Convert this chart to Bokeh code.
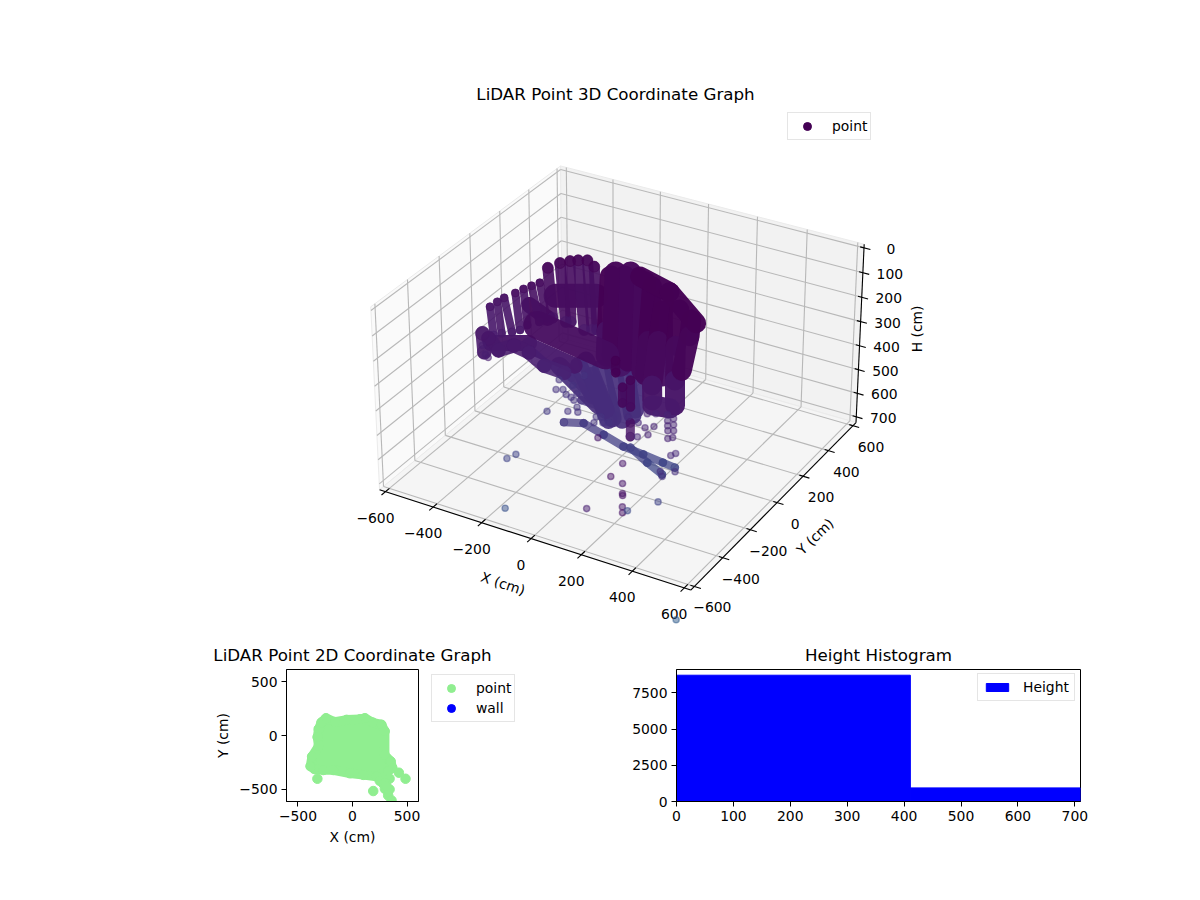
import numpy as np
from bokeh.core.properties import value
from bokeh.embed import file_html
from bokeh.layouts import column, row
from bokeh.models import ColumnDataSource, FixedTicker, Legend, LegendItem, LinearColorMapper, Range1d
from bokeh.palettes import Viridis256
from bokeh.plotting import figure
from bokeh.resources import INLINE
from bokeh.transform import transform

FONT = "DejaVu Sans"
TICK_SIZE = "13.9px"
TITLE_SIZE = "16.7px"

# limits of the 3D box (H axis is inverted)
x_lim = (-625, 625)
y_lim = (-625, 625)
h_lim = (724.8, -14.8)
x_ticks = [-600, -400, -200, 0, 200, 400, 600]
y_ticks = [-600, -400, -200, 0, 200, 400, 600]
h_ticks = [0, 100, 200, 300, 400, 500, 600, 700]

# LiDAR scan strips: x, y, h in cm
finger_x = [[-399, -348], [-384, -327], [-369, -297], [-342, -276], [-323, -261], [-303, -229], [-282, -213]]
finger_y = [[-230, -290], [-206, -271], [-184, -251], [-153, -232], [-129, -208], [-108, -180], [-87, -158]]
finger_h = [[112, 182], [100, 178], [90, 175], [78, 170], [68, 158], [60, 150], [52, 140]]

upper_x = [[-279, -195], [-249, -149], [-223, -134], [-201, -83], [-173, -59], [-140, -44]]
upper_y = [[-37, -147], [-4, -134], [21, -125], [40, -121], [56, -107], [47, -98]]
upper_h = [[15, 140], [3, 150], [0, 150], [0, 170], [0, 170], [12, 170]]

wing_x = [[-384, -352], [-359, -312, -273, -218, -154, -84]]
wing_y = [[-305, -346], [-306, -317, -279, -269, -273, -255]]
wing_h = [[178, 225], [190, 220, 208, 225, 258, 275]]

body_x = [[-346, -230], [-228, -63], [-283, -210]]
body_y = [[-314, -247], [-252, -220], [-157, -156]]
body_h = [[202, 202], [208, 258], [108, 140]]

upper_body_x = [[-216, -94]]
upper_body_y = [[-90, -19]]
upper_body_h = [[85, 85]]

band_x = [[-231, 15]]
band_y = [[-190, -144]]
band_h = [[158, 232]]

mass_mid_x = [[-76, -10, 20], [-35, 47, 75], [9, 102], [-67, 38], [-22, 92], [35, 147], [126, 213]]
mass_mid_y = [[52, -83, -142], [76, -80, -141], [95, -79], [70, -132], [96, -116], [98, -115], [58, -92]]
mass_mid_h = [[37, 173, 233], [37, 197, 258], [42, 221], [27, 233], [27, 245], [51, 270], [124, 282]]

mass_right_x = [[62, 124, 162], [115, 154, 196, 216], [176, 214, 258, 291], [225, 242, 265], [223, 280], [13, 123, 245]]
mass_right_y = [[101, -36, -121], [97, -18, -133, -167], [93, 1, -82, -140], [91, 48, -47], [-179, -155], [103, 118, 90]]
mass_right_h = [[61, 197, 282], [88, 197, 306, 343], [119, 209, 294, 355], [144, 185, 270], [355, 362], [37, 76, 153]]

funnel_x = [[0, 112], [51, 153], [119, 178], [20, 122], [94, 177], [-50, 32], [-109, 63], [-36, 90]]
funnel_y = [[-216, -288], [-155, -263], [-116, -218], [-182, -277], [-140, -236], [-213, -258], [-247, -271], [-189, -270]]
funnel_h = [[283, 390], [258, 390], [258, 365], [265, 386], [265, 379], [258, 330], [258, 355], [245, 365]]

pill_x = [[110, 131], [124, 160], [181, 199], [53, 70]]
pill_y = [[-188, -225], [-158, -220], [-257, -289], [-138, -166]]
pill_h = [[310, 349], [293, 359], [397, 431], [245, 275]]

floor_x = [[-18, 42, 117, 192, 261, 330, 372], [214, 284, 343], [4, 72, 126], [-57, 15, 72]]
floor_y = [[-370, -338, -330, -324, -308, -293, -284], [-314, -320, -322], [-289, -271, -264], [-254, -262, -271]]
floor_h = [[396, 398, 426, 454, 473, 493, 505], [457, 493, 521], [342, 358, 378], [287, 326, 358]]

# single returns that stand apart from the strips
point_x = [-76, -138, -117, -83, -90, -86, -65, -41, -49, -30, -18, -18, 1, 10, -21, -21,
           165, 104, 194, 212, 238, 251, 254, 268, 276, 288, 367,
           219, 245, 256, 231, 249, 281, 304, 289, 312, 296, 320, 303, 313, 326, 344, 356, 378, 346, 334,
           71, 85, 116, 72, 99, 204, 220, 167, 677, -346, -333, -368]
point_y = [-666, -551, -526, -374, -280, -308, -296, -270, -302, -300, -281, -302, -313, -323, -338, -227,
           -528, -347, -414, -364, -410, -433, -437, -463, -476, -463, -391,
           -207, -192, -225, -243, -254, -174, -173, -188, -187, -200, -201, -211, -229, -218, -263, -250, -293, -326, -318,
           -302, -294, -294, -319, -304, -243, -277, -247, -819, -349, -351, -333]
point_h = [602, 483, 473, 369, 292, 316, 316, 306, 328, 335, 326, 342, 359, 371, 369, 282,
           603, 433, 526, 495, 543, 567, 572, 599, 613, 608, 587,
           375, 375, 406, 409, 426, 378, 387, 392, 402, 404, 416, 416, 435, 433, 476, 471, 515, 526, 514,
           382, 382, 397, 397, 397, 397, 431, 382, 710, 230, 238, 208]
point_c = [0.25, 0.2, 0.2, 0.17, 0.15, 0.15, 0.15, 0.15, 0.15, 0.15, 0.15, 0.15, 0.15, 0.15, 0.15, 0.15,
           0.08, 0.06, 0.05, 0.06, 0.06, 0.05, 0.05, 0.06, 0.05, 0.22, 0.2,
           0.1, 0.1, 0.1, 0.1, 0.1, 0.1, 0.1, 0.1, 0.1, 0.1, 0.1, 0.1, 0.1, 0.1, 0.12, 0.12, 0.14, 0.14, 0.14,
           0.15, 0.15, 0.15, 0.15, 0.15, 0.12, 0.12, 0.12, 0.3, 0.08, 0.08, 0.08]

# 2D plan view
plan_x = [-310, -285, -243, -161, -54, 68, 114, 185, 265, 295, 295, 350, 365, 325, 221, 99, -24, -176, -268, -350, -385, -370, -310, -320]
plan_y = [60, 120, 160, 125, 145, 150, 160, 120, 100, 40, -180, -240, -300, -330, -380, -365, -350, -320, -320, -310, -285, -195, -100, -15]
plan_out_x = [486, 425, 190, -322, 297, 327, 358, 282, 340, 250, 300, 340, 310]
plan_out_y = [-401, -345, -515, -401, -494, -556, -602, -447, -400, -420, -440, -500, -470]
plan_ticks = [-500, 0, 500]

# height histogram
bin_left = [0, 411]
bin_right = [411, 710]
bin_count = [8722, 940]
hist_x_ticks = [0, 100, 200, 300, 400, 500, 600, 700]
hist_y_ticks = [0, 2500, 5000, 7500]

# view of the 3D box, elevation 30, azimuth -60
BOX_XY = 1.1905
BOX_Z = 0.70
DIST = 10.0
U = (0.866, 0.5, 0.0)
V = (-0.25, 0.433, 0.866)
W = (0.433, -0.75, 0.5)
SCALE = 2980.0
CENTER_PX = (621.7, 366.3)


def project(x, y, h):
    cx = ((np.asarray(x, dtype=float) - x_lim[0]) / (x_lim[1] - x_lim[0]) - 0.5) * BOX_XY
    cy = ((np.asarray(y, dtype=float) - y_lim[0]) / (y_lim[1] - y_lim[0]) - 0.5) * BOX_XY
    cz = ((np.asarray(h, dtype=float) - h_lim[0]) / (h_lim[1] - h_lim[0]) - 0.5) * BOX_Z
    den = DIST - (W[0] * cx + W[1] * cy + W[2] * cz)
    return (U[0] * cx + U[1] * cy) / den, (V[0] * cx + V[1] * cy + V[2] * cz) / den


def text3d(p, x, y, h, labels, dx, dy, angle=0.0):
    px, py = project(x, y, h)
    p.text(px, py, text=labels, x_offset=dx, y_offset=dy, angle=angle,
           text_align="center", text_baseline="middle", text_color="black",
           text_font=value(FONT), text_font_size=value(TICK_SIZE))


def line3d(p, x0, y0, h0, x1, y1, h1, color, width):
    ax, ay = project(x0, y0, h0)
    bx, by = project(x1, y1, h1)
    p.segment(ax, ay, bx, by, line_color=color, line_width=width)


def strips(p, mapper, xs, ys, hs, base, width, alpha, dots=True):
    seg = {"x0": [], "y0": [], "x1": [], "y1": [], "c": []}
    ends = {"x": [], "y": [], "c": []}
    for sx, sy, sh in zip(xs, ys, hs):
        px, py = project(sx, sy, sh)
        for i in range(len(sx) - 1):
            seg["x0"].append(px[i])
            seg["y0"].append(py[i])
            seg["x1"].append(px[i + 1])
            seg["y1"].append(py[i + 1])
            seg["c"].append(base + (sh[i] + sh[i + 1]) / 2 / 2400)
        for i in range(len(sx)):
            ends["x"].append(px[i])
            ends["y"].append(py[i])
            ends["c"].append(base + sh[i] / 2400)
    p.segment("x0", "y0", "x1", "y1", source=ColumnDataSource(seg),
              line_color=transform("c", mapper), line_width=width, line_alpha=alpha, line_cap="round")
    if dots:
        p.scatter("x", "y", source=ColumnDataSource(ends), size=width, marker="circle",
                  fill_color=transform("c", mapper), line_color=transform("c", mapper),
                  fill_alpha=alpha * 0.6, line_alpha=alpha * 0.6)


def legend_style(legend):
    legend.label_text_font = FONT
    legend.label_text_font_size = TICK_SIZE
    legend.label_text_color = "black"
    legend.border_line_color = "#cccccc"
    legend.border_line_width = 1
    legend.background_fill_alpha = 0.8
    legend.margin = 0
    legend.padding = 3
    legend.spacing = 0
    legend.glyph_width = 32
    legend.glyph_height = 20
    legend.label_height = 15
    legend.label_standoff = 9


def axis_style(p):
    for ax in (p.xaxis[0], p.yaxis[0]):
        ax.axis_line_color = "black"
        ax.major_tick_line_color = "black"
        ax.major_tick_out = 5
        ax.major_tick_in = 0
        ax.minor_tick_line_color = None
        ax.major_label_text_font = FONT
        ax.major_label_text_font_size = TICK_SIZE
        ax.major_label_text_color = "black"
        ax.major_label_standoff = 4
        ax.axis_label_text_font = FONT
        ax.axis_label_text_font_size = TICK_SIZE
        ax.axis_label_text_font_style = "normal"
        ax.axis_label_text_color = "black"
    p.grid.visible = False
    p.outline_line_color = "black"
    p.outline_line_width = 1
    p.title.align = "center"
    p.title.text_font = FONT
    p.title.text_font_size = TITLE_SIZE
    p.title.text_font_style = "normal"
    p.title.text_color = "black"


def minus(ticks):
    return {t: str(t).replace("-", "\u2212") for t in ticks}


# ---------- 3D panel ----------
FRAME_L, FRAME_R, FRAME_T, FRAME_B = 38, 1192, 108, 630
p3d = figure(width=FRAME_R, height=FRAME_B, frame_width=FRAME_R - FRAME_L, frame_height=FRAME_B - FRAME_T,
             min_border_left=FRAME_L, min_border_right=0, min_border_top=FRAME_T, min_border_bottom=0,
             x_range=Range1d((FRAME_L - CENTER_PX[0]) / SCALE, (FRAME_R - CENTER_PX[0]) / SCALE),
             y_range=Range1d((CENTER_PX[1] - FRAME_B) / SCALE, (CENTER_PX[1] - FRAME_T) / SCALE),
             x_axis_type=None, y_axis_type=None, title="LiDAR Point 3D Coordinate Graph",
             toolbar_location=None, tools="", output_backend="svg")
p3d.outline_line_color = None
p3d.grid.visible = False
p3d.title.align = "center"
p3d.title.text_font = FONT
p3d.title.text_font_size = TITLE_SIZE
p3d.title.text_font_style = "normal"
p3d.title.text_color = "black"

x0, x1 = x_lim
y0, y1 = y_lim
hb, ht = h_lim
# panes: left wall, back wall, floor
for px_, py_, h_, col in [
    ([x0, x0, x0, x0], [y0, y1, y1, y0], [hb, hb, ht, ht], "#fafafa"),
    ([x0, x1, x1, x0], [y1, y1, y1, y1], [hb, hb, ht, ht], "#f2f2f2"),
    ([x0, x1, x1, x0], [y0, y0, y1, y1], [hb, hb, hb, hb], "#f5f5f5"),
]:
    sx, sy = project(px_, py_, h_)
    p3d.patch(sx, sy, fill_color=col, line_color="#ebebeb", line_width=1)

GRID = "#b8b8b8"
for t in x_ticks:
    line3d(p3d, t, y0, hb, t, y1, hb, GRID, 1.1)
    line3d(p3d, t, y1, hb, t, y1, ht, GRID, 1.1)
for t in y_ticks:
    line3d(p3d, x0, t, hb, x1, t, hb, GRID, 1.1)
    line3d(p3d, x0, t, hb, x0, t, ht, GRID, 1.1)
for t in h_ticks:
    line3d(p3d, x0, y0, t, x0, y1, t, GRID, 1.1)
    line3d(p3d, x0, y1, t, x1, y1, t, GRID, 1.1)

# axis lines and ticks
line3d(p3d, x0, y0, hb, x1, y0, hb, "black", 1.1)
line3d(p3d, x1, y0, hb, x1, y1, hb, "black", 1.1)
line3d(p3d, x1, y1, hb, x1, y1, ht, "black", 1.1)
for t in x_ticks:
    line3d(p3d, t, y0 - 25, hb, t, y0 + 25, hb, "black", 1.1)
for t in y_ticks:
    line3d(p3d, x1 - 15, t, hb, x1 + 25, t, hb, "black", 1.1)
for t in h_ticks:
    line3d(p3d, x1 - 15, y1, t, x1 + 25, y1, t, "black", 1.1)

text3d(p3d, x_ticks, [y0] * 7, [hb] * 7, list(minus(x_ticks).values()), -10, 26)
text3d(p3d, [x1] * 7, y_ticks, [hb] * 7, list(minus(y_ticks).values()), 18, 21)
text3d(p3d, [x1] * 8, [y1] * 8, h_ticks, [str(t) for t in h_ticks], 27, 1)
text3d(p3d, [0], [y0], [hb], ["X (cm)"], -28, 45, angle=-0.32)
text3d(p3d, [x1], [0], [hb], ["Y (cm)"], 38, 34, angle=0.77)
text3d(p3d, [x1], [y1], [355], ["H (cm)"], 57, -6, angle=1.5708)

# the point cloud
cloud = LinearColorMapper(palette=Viridis256, low=0, high=1)
strips(p3d, cloud, floor_x, floor_y, floor_h, 0.0, 8, 0.75)
strips(p3d, cloud, funnel_x, funnel_y, funnel_h, 0.0, 18, 0.92, dots=False)
strips(p3d, cloud, body_x, body_y, body_h, -0.03, 16, 0.96, dots=False)
strips(p3d, cloud, upper_body_x, upper_body_y, upper_body_h, -0.01, 24, 0.95, dots=False)
strips(p3d, cloud, finger_x, finger_y, finger_h, 0.0, 8, 0.9)
strips(p3d, cloud, upper_x, upper_y, upper_h, 0.0, 11, 0.9)
strips(p3d, cloud, wing_x, wing_y, wing_h, -0.02, 14, 0.88)
strips(p3d, cloud, mass_mid_x, mass_mid_y, mass_mid_h, -0.04, 22, 0.97, dots=False)
strips(p3d, cloud, mass_right_x, mass_right_y, mass_right_h, -0.08, 20, 0.97, dots=False)
strips(p3d, cloud, band_x, band_y, band_h, -0.05, 28, 0.95, dots=False)
strips(p3d, cloud, pill_x, pill_y, pill_h, -0.12, 9, 0.8)

cx_, cy_ = project(point_x, point_y, point_h)
p3d.scatter("x", "y", source=ColumnDataSource({"x": cx_, "y": cy_, "c": point_c}), size=6.2, marker="circle",
            fill_color=transform("c", cloud), line_color=transform("c", cloud),
            fill_alpha=0.5, line_alpha=0.5, line_width=1.4)

key = p3d.scatter([float("nan")], [float("nan")], size=7, marker="circle", color="#440154")
leg3d = Legend(items=[LegendItem(label="point", renderers=[key])], location=(749, 490))
legend_style(leg3d)
p3d.add_layout(leg3d, "center")

# ---------- 2D panel ----------
p2d = figure(width=500, height=220, frame_width=132, frame_height=132,
             min_border_left=286, min_border_right=82, min_border_top=39, min_border_bottom=49,
             x_range=Range1d(-605, 605), y_range=Range1d(-612, 612),
             title="LiDAR Point 2D Coordinate Graph", toolbar_location=None, tools="", output_backend="svg")
axis_style(p2d)
p2d.xaxis.axis_label = "X (cm)"
p2d.yaxis.axis_label = "Y (cm)"
p2d.xaxis.ticker = FixedTicker(ticks=plan_ticks)
p2d.yaxis.ticker = FixedTicker(ticks=plan_ticks)
p2d.xaxis.major_label_overrides = minus(plan_ticks)
p2d.yaxis.major_label_overrides = minus(plan_ticks)

GREEN = "#90ee90"
p2d.patch(plan_x, plan_y, fill_color=GREEN, line_color=GREEN, line_width=9.5, line_join="round")
p2d.scatter(plan_x, plan_y, size=9.5, marker="circle", color=GREEN)
p2d.scatter(plan_out_x, plan_out_y, size=9.5, marker="circle", color=GREEN)

# legend of the 2D panel sits beside it, outside its axes; pulled left over the free border of p2d
key2d = figure(width=100, height=220, frame_width=100, frame_height=132,
               min_border_left=0, min_border_right=0, min_border_top=39, min_border_bottom=49,
               x_range=Range1d(0, 1), y_range=Range1d(0, 1), x_axis_type=None, y_axis_type=None,
               toolbar_location=None, tools="", output_backend="svg", margin=(0, 0, 0, -70))
key2d.outline_line_color = None
key2d.grid.visible = False
key2d.border_fill_color = None
key2d.background_fill_color = None
pts = key2d.scatter([float("nan")], [float("nan")], size=9.5, marker="circle", color=GREEN)
wall = key2d.scatter([float("nan")], [float("nan")], size=9.5, marker="circle", color="blue")
leg2d = Legend(items=[LegendItem(label="point", renderers=[pts]), LegendItem(label="wall", renderers=[wall])],
               location=(1, 79))
legend_style(leg2d)
key2d.add_layout(leg2d, "center")

# ---------- histogram ----------
hist = figure(width=662, height=220, frame_width=404, frame_height=132,
              min_border_left=146, min_border_right=112, min_border_top=39, min_border_bottom=49,
              x_range=Range1d(0, 710), y_range=Range1d(0, 9116),
              title="Height Histogram", toolbar_location=None, tools="", output_backend="svg")
axis_style(hist)
hist.xaxis.ticker = FixedTicker(ticks=hist_x_ticks)
hist.yaxis.ticker = FixedTicker(ticks=hist_y_ticks)
bars = hist.quad(left=bin_left, right=bin_right, top=bin_count, bottom=0, color="blue")
leg_h = Legend(items=[LegendItem(label="Height", renderers=[bars])], location=(301, 100))
legend_style(leg_h)
leg_h.padding = 5
leg_h.glyph_width = 28
leg_h.glyph_height = 10
leg_h.label_standoff = 12
hist.add_layout(leg_h, "center")

page = column(p3d, row(p2d, key2d, hist))
open("out.html", "w").write(file_html(page, INLINE))
